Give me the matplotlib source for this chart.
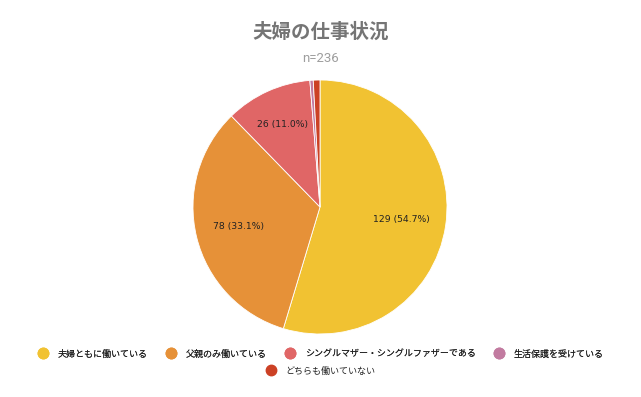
import matplotlib
matplotlib.use("Agg")
import matplotlib.pyplot as plt
from matplotlib.lines import Line2D
import numpy as np

plt.rcParams['font.family'] = ['Noto Sans CJK JP', 'DejaVu Sans']

# data
categories = ['夫婦ともに働いている', '父親のみ働いている', 'シングルマザー・シングルファザーである',
              '生活保護を受けている', 'どちらも働いていない']
values = [129, 78, 26, 1, 2]
total = 236
colors = ['#F1C232', '#E69138', '#E06666', '#C27BA0', '#CC4125']

fig = plt.figure(figsize=(6.41, 3.97), dpi=100)

# pie axes: centre (320, 207) px, radius ~127 px
cx, cy, r = 320, 397 - 207, 127
ax = fig.add_axes([(cx - r) / 641, (cy - r) / 397, 2 * r / 641, 2 * r / 397])
wedges, _ = ax.pie(values, colors=colors, startangle=90, counterclock=False,
                   wedgeprops=dict(edgecolor='white', linewidth=0.6))
ax.set_xlim(-1, 1)
ax.set_ylim(-1, 1)
ax.set_aspect('equal')
ax.axis('off')

# slice labels (only the larger slices)
label_dist = [0.65, 0.66, 0.71]
for i in range(3):
    w = wedges[i]
    ang = np.deg2rad((w.theta1 + w.theta2) / 2)
    pct = values[i] / total * 100
    ax.text(label_dist[i] * np.cos(ang), label_dist[i] * np.sin(ang),
            f'{values[i]} ({pct:.1f}%)', ha='center', va='center',
            fontsize=6.7, color='#222222', family=['DejaVu Sans'])

fig.text(0.5, 1 - 32 / 397, '夫婦の仕事状況', ha='center', va='center',
         fontsize=14, fontweight='bold', color='#757575')
fig.text(0.5, 1 - 59 / 397, f'n={total}', ha='center', va='center',
         fontsize=9.5, color='#9E9E9E', family=['Roboto', 'DejaVu Sans'])

handles = [Line2D([], [], marker='o', linestyle='', markersize=7.5,
                  markerfacecolor=c, markeredgecolor=c) for c in colors]
leg1 = fig.legend(handles[:4], categories[:4], loc='center', ncol=4,
                  bbox_to_anchor=(0.5, 1 - 354 / 397), frameon=False,
                  fontsize=6.5, handletextpad=1.05, columnspacing=1.95,
                  handlelength=1.2)
for t in leg1.get_texts():
    t.set_color('#222222')
leg2 = fig.legend(handles[4:], categories[4:], loc='center', ncol=1,
                  bbox_to_anchor=(0.5, 1 - 371 / 397), frameon=False,
                  fontsize=6.5, handletextpad=1.05, handlelength=1.2)
for t in leg2.get_texts():
    t.set_color('#222222')
fig.add_artist(leg1)

fig.savefig('out.png', dpi=100, facecolor='white')
